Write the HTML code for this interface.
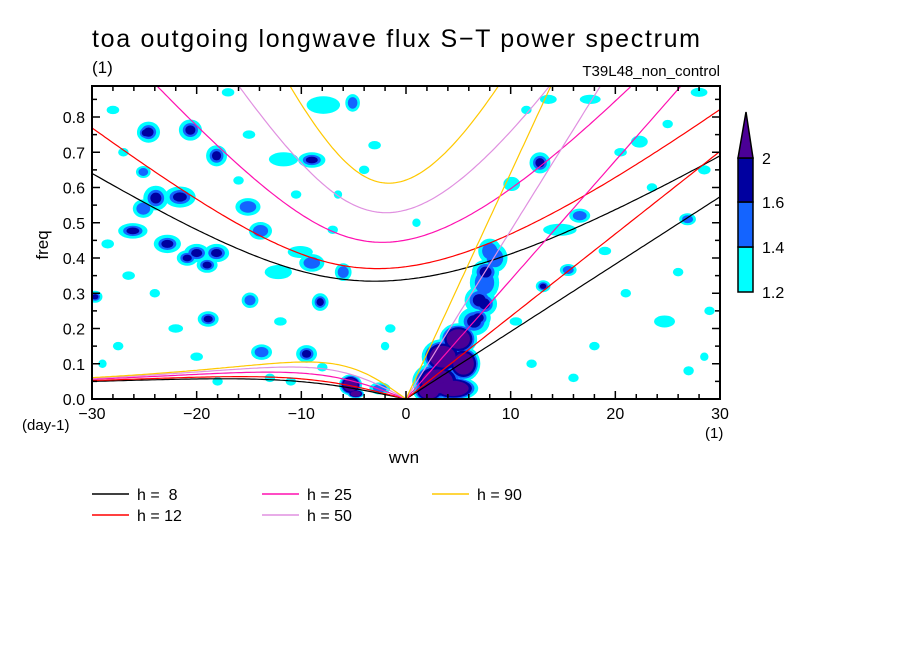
<!DOCTYPE html>
<html><head><meta charset="utf-8"><style>
body{margin:0;background:#fff;}
svg text{font-family:"Liberation Sans",sans-serif;fill:#000;}
</style></head><body>
<svg id="chart" width="904" height="654" xmlns="http://www.w3.org/2000/svg">
<defs><clipPath id="clip"><rect x="92" y="86" width="628" height="313"/></clipPath></defs>
<text x="92" y="47" font-size="25" textLength="608" lengthAdjust="spacing">toa outgoing longwave flux S−T power spectrum</text>
<text x="92" y="73" font-size="17">(1)</text>
<text x="720" y="76" font-size="15" text-anchor="end">T39L48_non_control</text>
<g id="blobs" clip-path="url(#clip)"></g>
<g id="curves" clip-path="url(#clip)"></g>
<rect x="92" y="86" width="628" height="313" fill="none" stroke="#000" stroke-width="2"/>
<g id="axes"></g>
<text transform="translate(48,245) rotate(-90)" font-size="17" text-anchor="middle">freq</text>
<text x="404" y="463" font-size="17" text-anchor="middle">wvn</text>
<text x="22" y="430" font-size="15">(day-1)</text>
<text x="705" y="438" font-size="15">(1)</text>
<g id="colorbar"></g>
<g id="legend"></g>
</svg>
<script>
const NS="http://www.w3.org/2000/svg";
const depths=[8,12,25,50,90];
const depthColors=["#000000","#ff0000","#ff10b0","#e090e0","#ffc800"];
const xTicks=[-30,-20,-10,0,10,20,30];
const yTicks=[0,0.1,0.2,0.3,0.4,0.5,0.6,0.7,0.8];
const cbLevels=[1.2,1.4,1.6,2];
const cbColors=["#00ffff","#1464ff","#0000a0","#4b0096"];
// blobs: wavenumber, frequency, level (1..4), radius wvn, radius freq
const blobK=[-24.6,-20.6,-23.9,-21.6,-26.1,-22.8,-25.1,-20,-18.1,-20.9,-19,-18.1,-24.9,-9,-5.1,-15.1,-13.9,-28.5,-25.1,-7.9,-11.7,-6,-9,-29.7,-18.9,-13.8,-9.5,-8.2,-14.9,-12.2,-10.1,-5.3,-4.8,-2.5,7.6,7.5,6.9,8,10.1,12.8,16.6,13.1,15.5,22.3,26.9,28.5,14.7,17.6,13.6,28,24.7,27,
  3,4.5,3.5,5,6.5,7,7.5,2.2,8.5,5.5,
  -28,-27,-26.5,-22,-17,-16,-12,-10.5,-7,-4,-3,-1.5,-20,-13,-11,-27.5,-29,-24,-15,-6.5,10.5,12,18,19,21,23.5,25,26,28.5,11.5,20.5,29,16,-2,1,-18,-8];
const blobF=[0.757,0.763,0.57,0.573,0.477,0.44,0.54,0.414,0.414,0.40,0.38,0.69,0.755,0.678,0.84,0.545,0.477,0.44,0.644,0.834,0.68,0.36,0.386,0.29,0.227,0.133,0.128,0.275,0.28,0.36,0.417,0.04,0.015,0.03,0.36,0.27,0.23,0.42,0.61,0.67,0.52,0.32,0.366,0.73,0.51,0.65,0.48,0.85,0.85,0.87,0.22,0.08,
  0.05,0.03,0.12,0.17,0.22,0.28,0.33,0.02,0.4,0.1,
  0.82,0.7,0.35,0.2,0.87,0.62,0.22,0.58,0.48,0.65,0.72,0.2,0.12,0.06,0.05,0.15,0.1,0.3,0.75,0.58,0.22,0.1,0.15,0.42,0.3,0.6,0.78,0.36,0.12,0.82,0.7,0.25,0.06,0.15,0.5,0.05,0.09];
const blobL=[3,3,3,3,3,3,2,3,3,3,3,3,3,3,2,2,2,1,2,1,1,2,2,3,3,2,3,3,2,1,1,4,4,2,3,3,3,2,1,3,2,3,2,1,2,1,1,1,1,1,1,1,
  4,4,4,4,3,3,2,4,2,4,
  1,1,1,1,1,1,1,1,1,1,1,1,1,1,1,1,1,1,1,1,1,1,1,1,1,1,1,1,1,1,1,1,1,1,1,1,1];
const blobRK=[1.1,1.1,1.2,1.5,1.4,1.3,1.0,1.2,1.2,1.0,1.0,1.0,0.8,1.3,0.7,1.2,1.1,0.6,0.7,1.6,1.4,0.8,1.2,0.7,1.0,1.0,1.0,0.8,0.8,1.3,1.2,1.1,0.8,1.0,1.3,1.2,1.2,1.1,0.8,1.0,1.0,0.7,0.8,0.8,0.8,0.6,1.6,1.0,0.8,0.8,1.0,0.5,
  2.4,2.4,2.0,1.8,1.5,1.4,1.4,1.5,1.2,1.6,
  0.6,0.5,0.6,0.7,0.6,0.5,0.6,0.5,0.5,0.5,0.6,0.5,0.6,0.5,0.5,0.5,0.4,0.5,0.6,0.4,0.6,0.5,0.5,0.6,0.5,0.5,0.5,0.5,0.4,0.5,0.6,0.5,0.5,0.4,0.4,0.5,0.5];
const blobRF=[0.03,0.03,0.035,0.03,0.022,0.026,0.026,0.026,0.026,0.022,0.022,0.03,0.022,0.022,0.025,0.025,0.025,0.013,0.017,0.025,0.02,0.025,0.025,0.017,0.022,0.022,0.025,0.025,0.022,0.02,0.017,0.03,0.013,0.017,0.035,0.035,0.03,0.035,0.02,0.03,0.02,0.017,0.017,0.017,0.017,0.013,0.017,0.013,0.013,0.013,0.017,0.013,
  0.055,0.035,0.05,0.045,0.04,0.04,0.05,0.03,0.04,0.05,
  0.012,0.012,0.012,0.012,0.012,0.012,0.012,0.012,0.012,0.012,0.012,0.012,0.012,0.012,0.012,0.012,0.012,0.012,0.012,0.012,0.012,0.012,0.012,0.012,0.012,0.012,0.012,0.012,0.012,0.012,0.012,0.012,0.012,0.012,0.012,0.012,0.012];

const X0=92,X1=720,Y0=399,YT=86;
const xs=k=>406+k*(X1-X0)/60;
const ys=f=>Y0-f*352.5;
const g=document.getElementById('blobs');
const scl=[1,0.66,0.44,0.28];
for(let l=0;l<4;l++){
 for(let i=0;i<blobK.length;i++){
  if(blobL[i]<=l)continue;
  const sc=blobL[i]===4?[1,0.85,0.75,0.62][l]:scl[l];
  const e=document.createElementNS(NS,'ellipse');
  
  
  e.setAttribute('cx',xs(blobK[i]));e.setAttribute('cy',ys(blobF[i]));
  e.setAttribute('rx',blobRK[i]*10.47*sc);e.setAttribute('ry',blobRF[i]*352.5*sc);
  e.setAttribute('fill',cbColors[l]);
  g.appendChild(e);
 }
}
// dispersion curves
const a=6.371e6,beta=2*7.292e-5/a,toCpd=86400/(2*Math.PI);
function roots(k,c){
  const p=-(c*c*k*k+3*beta*c),q=-beta*c*c*k;
  const m=2*Math.sqrt(-p/3),th=Math.acos(Math.max(-1,Math.min(1,3*q/(2*p)*Math.sqrt(-3/p))))/3;
  return [0,1,2].map(j=>m*Math.cos(th-2*Math.PI*j/3)).sort((u,v)=>v-u);
}
const cg=document.getElementById('curves');
function addPath(pts,col,name){
  const p=document.createElementNS(NS,'path');
  
  
  p.setAttribute('d','M'+pts.map(v=>v[0].toFixed(1)+','+v[1].toFixed(1)).join('L'));
  p.setAttribute('fill','none');p.setAttribute('stroke',col);p.setAttribute('stroke-width','1.2');
  cg.appendChild(p);
}
depths.forEach((h,i)=>{
  const c=Math.sqrt(9.81*h);
  const ig=[],er=[],kel=[];
  for(let s=-30;s<=30.001;s+=0.25){
    const k=s/a,r=roots(k,c);
    ig.push([xs(s),ys(r[0]*toCpd)]);
    if(s<0)er.push([xs(s),ys(r[1]*toCpd)]);
    if(s>=0)kel.push([xs(s),ys(c*k*toCpd)]);
  }
  er.push([xs(0),ys(0)]);
  addPath(ig,depthColors[i],'ig-curve-h'+h);
  addPath(er,depthColors[i],'rossby-curve-h'+h);
  addPath(kel,depthColors[i],'kelvin-line-h'+h);
});
// axes
const ax=document.getElementById('axes');
function line(x1,y1,x2,y2,name,w){const l=document.createElementNS(NS,'line');
  
  l.setAttribute('x1',x1);l.setAttribute('y1',y1);l.setAttribute('x2',x2);l.setAttribute('y2',y2);
  l.setAttribute('stroke','#000');l.setAttribute('stroke-width',w||1.5);ax.appendChild(l);}
function text(x,y,s,anchor,size,name,parent){const t=document.createElementNS(NS,'text');
  
  t.setAttribute('x',x);t.setAttribute('y',y);t.setAttribute('text-anchor',anchor);t.setAttribute('font-size',size);
  t.textContent=s;(parent||ax).appendChild(t);}
for(let s=-30;s<=30;s+=2){const big=s%10===0,L=big?8:5;
  line(xs(s),Y0,xs(s),Y0-L,'x-tick');line(xs(s),YT,xs(s),YT+L,'x-tick-top');}
for(let f=0;f<=0.88;f+=0.05){const big=Math.round(f*100)%10===0,L=big?8:5;
  line(X0,ys(f),X0+L,ys(f),'y-tick');line(X1,ys(f),X1-L,ys(f),'y-tick-right');}
xTicks.forEach(v=>text(xs(v),419,v<0?'−'+(-v):String(v),'middle',16,'x-tick-label'));
yTicks.forEach(v=>text(85,ys(v)+6,v.toFixed(1),'end',16,'y-tick-label'));
// colorbar
const cb=document.getElementById('colorbar');
const cbY=v=>292-(v-1.2)/(1.6-1.2)*(292-202);
const cbTop=158;
for(let i=0;i<3;i++){const y1=cbY(cbLevels[i]),y2=i===2?cbTop:cbY(cbLevels[i+1]);
  const r=document.createElementNS(NS,'rect');
  
  r.setAttribute('x',738);r.setAttribute('y',y2);r.setAttribute('width',15);r.setAttribute('height',y1-y2);
  r.setAttribute('fill',cbColors[i]);r.setAttribute('stroke','#000');r.setAttribute('stroke-width','1.5');cb.appendChild(r);}
const tri=document.createElementNS(NS,'polygon');

tri.setAttribute('points','738,158 753,158 746,112');tri.setAttribute('fill',cbColors[3]);tri.setAttribute('stroke','#000');tri.setAttribute('stroke-width','1.5');cb.appendChild(tri);
cbLevels.forEach((v,i)=>text(762,(i===3?cbTop:cbY(v))+6,String(v),'start',16,'colorbar-label',cb));
// legend
const lg=document.getElementById('legend');
const lpos=[[92,494],[92,515],[262,494],[262,515],[432,494]];
depths.forEach((h,i)=>{const [x,y]=lpos[i];
  const l=document.createElementNS(NS,'line');
  
  l.setAttribute('x1',x);l.setAttribute('y1',y);l.setAttribute('x2',x+37);l.setAttribute('y2',y);
  l.setAttribute('stroke',depthColors[i]);l.setAttribute('stroke-width','1.5');lg.appendChild(l);
  const t=document.createElementNS(NS,'text');
  
  t.setAttribute('x',x+45);t.setAttribute('y',y+6);t.setAttribute('font-size','16');
  t.setAttribute('xml:space','preserve');t.style.whiteSpace='pre';
  t.textContent='h = '+(h<10?' ':'')+h;lg.appendChild(t);});
</script>
</body></html>
